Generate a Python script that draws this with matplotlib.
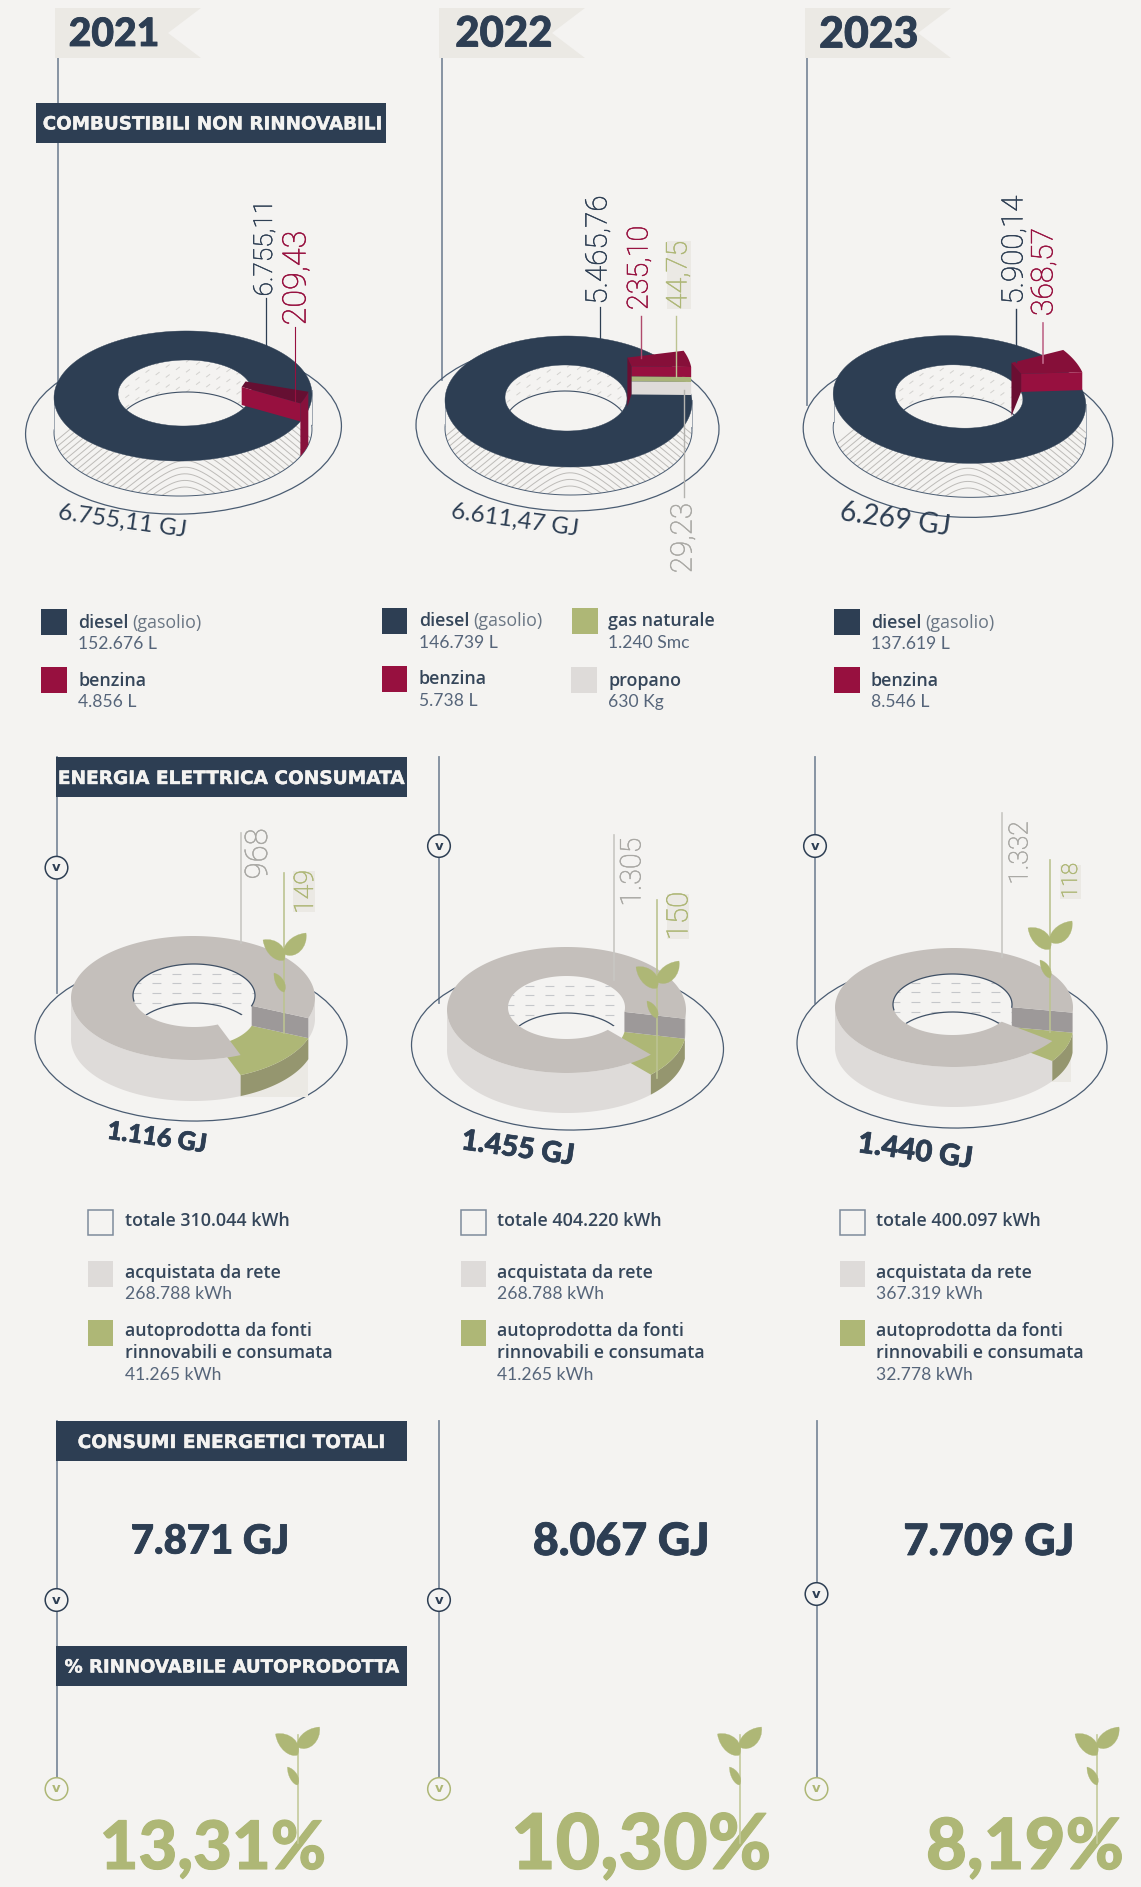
import numpy as np
import matplotlib
matplotlib.use("Agg")
import matplotlib.pyplot as plt
import matplotlib.patheffects as pe
from matplotlib.patches import Ellipse, PathPatch, Polygon, Rectangle, Circle
from matplotlib.path import Path
from matplotlib.textpath import TextPath
from matplotlib.font_manager import FontProperties

# ------------------------------ data
years = ["2021", "2022", "2023"]
diesel_gj = [6755.11, 5465.76, 5900.14]
benzina_gj = [209.43, 235.10, 368.57]
gas_gj_2022 = 44.75
propano_gj_2022 = 29.23
fuel_totals = ["6.755,11 GJ", "6.611,47 GJ", "6.269 GJ"]
rete_gj = [968, 1305, 1332]
auto_gj = [149, 150, 118]
elec_totals = ["1.116 GJ", "1.455 GJ", "1.440 GJ"]
consumi = ["7.871 GJ", "8.067 GJ", "7.709 GJ"]
rinnovabile = ["13,31%", "10,30%", "8,19%"]
diesel_l = ["152.676 L", "146.739 L", "137.619 L"]
benzina_l = ["4.856 L", "5.738 L", "8.546 L"]
gas_smc = "1.240 Smc"
propano_kg = "630 Kg"
tot_kwh = ["totale 310.044 kWh", "totale 404.220 kWh", "totale 400.097 kWh"]
rete_kwh = ["268.788 kWh", "268.788 kWh", "367.319 kWh"]
auto_kwh = ["41.265 kWh", "41.265 kWh", "32.778 kWh"]

# ------------------------------ style
BG = "#F4F3F1"; NAVY = "#2D3E53"; MAROON = "#97103F"; GREEN = "#AEB776"
LGRAY = "#DEDBD9"; RINGGRAY = "#C4BFBB"; BAND = "#9D9999"; DKGREEN = "#95966F"
FLAG = "#EBE9E4"; VLINE = "#7E8B9C"; TXTGRAY = "#A9A8A4"; HATCH = "#BDBBB8"

light = FontProperties(family="Roboto", weight="light")
regular = FontProperties(family="Lato", weight="regular")
heavy = FontProperties(family="DejaVu Sans", weight="bold")
black = FontProperties(family="Lato", weight="black")
nameb = FontProperties(family="Open Sans", weight="semibold")
nameg = FontProperties(family="Open Sans", weight="regular")


def it(v, dec=0):
    s = f"{v:,.{dec}f}"
    return s.replace(",", "#").replace(".", ",").replace("#", ".")


fig = plt.figure(figsize=(11.41, 18.87), dpi=100, facecolor=BG)
ax = fig.add_axes([0, 0, 1, 1])
ax.set_xlim(0, 1141)
ax.set_ylim(1887, 0)
ax.axis("off")


def fit(text, length, fp):
    w = TextPath((0, 0), text, size=100, prop=fp).get_extents().width
    return 100 * length / w * 0.72


def label(x, y, text, length, fp, color, rot=0, z=30, va="center", stroke=0):
    t = ax.text(x, y, text, fontproperties=fp, fontsize=fit(text, length, fp), color=color,
                rotation=rot, rotation_mode="anchor", ha="center", va=va, zorder=z)
    if stroke:
        t.set_path_effects([pe.withStroke(linewidth=stroke, foreground=color)])
    return t


def ell(e, a, dz=0, scale=1.0):
    cx, cy, rx, ry = e[:4]
    tilt = np.radians(e[4]) if len(e) > 4 else 0.0
    t = np.radians(np.asarray(a, dtype=float))
    x = rx * scale * np.cos(t)
    y = ry * scale * np.sin(t)
    return np.column_stack([cx + x * np.cos(tilt) - y * np.sin(tilt),
                            cy + x * np.sin(tilt) + y * np.cos(tilt) + dz])


def poly(pts, color, z, lw=0, ec=None):
    ax.add_patch(Polygon(pts, closed=True, fc=color, ec=ec or color, lw=lw, zorder=z))


def arcs(a0, a1, n=80):
    return np.linspace(a0, a1, n)


def annulus(outer, inner, color, z):
    a = arcs(0, 360, 200)
    po = ell(outer, a)
    pi = ell(inner, a)[::-1]
    verts = np.vstack([po, po[:1], pi, pi[:1]])
    codes = ([Path.MOVETO] + [Path.LINETO] * (len(po) - 1) + [Path.CLOSEPOLY]
             + [Path.MOVETO] + [Path.LINETO] * (len(pi) - 1) + [Path.CLOSEPOLY])
    ax.add_patch(PathPatch(Path(verts, codes), fc=color, ec=color, lw=0.3, zorder=z))


def hole_wall(inner, floor_d):
    """Polygon of the visible back wall of the hole and the floor arc inside it."""
    a = arcs(180, 360, 160)
    top = ell(inner, a)
    fl = ell(inner, a, dz=floor_d)
    return np.vstack([top, fl[::-1]]), fl


def base_ellipse(e, z=2):
    ax.add_patch(Ellipse(e[:2], 2 * e[2], 2 * e[3], angle=e[4] if len(e) > 4 else 0,
                         fc="none", ec="#4A5C72", lw=0.9, zorder=z))


def circle_v(x, y, color=NAVY, z=12):
    ax.add_patch(Circle((x, y), 11.3, fc=BG, ec=color, lw=1.1, zorder=z))
    ax.text(x, y, "v", fontproperties=heavy, fontsize=9.5, color=color, ha="center",
            va="center", zorder=z + 1)


def leaf(base, tip, color=GREEN, z=25, wid=0.42, bend=1):
    b = np.array(base, float); t = np.array(tip, float)
    d = t - b
    n = np.array([-d[1], d[0]]) * bend
    c1 = b + d * 0.15 + n * wid
    c2 = b + d * 0.75 + n * wid * 0.9
    c3 = b + d * 0.6 - n * wid * 0.75
    c4 = b + d * 0.1 - n * wid * 0.55
    verts = [b, c1, c2, t, c3, c4, b]
    codes = [Path.MOVETO, Path.CURVE4, Path.CURVE4, Path.CURVE4, Path.CURVE4, Path.CURVE4, Path.CURVE4]
    ax.add_patch(PathPatch(Path(verts, codes), fc=color, ec=color, lw=0.2, zorder=z))


def plant(x, yb1, tip1, yb2, tip2, yb3, tip3, z=25):
    leaf((x, yb1), tip1, z=z)
    leaf((x, yb2), tip2, z=z)
    leaf((x, yb3), tip3, z=z, wid=0.32)


# ------------------------------ columns / flags
flag_x = [55, 439, 805]
flag_txt_x = [114, 504, 869]
flag_len = [87, 94, 96]
flag_line_x = [57.5, 441.5, 807]
flag_line_end = [385, 380, 405]
for i, y_ in enumerate(years):
    x = flag_x[i]
    poly([(x, 8), (x + 146, 8), (x + 113, 33), (x + 146, 58), (x, 58)], FLAG, 3)
    label(flag_txt_x[i], 34.5, y_, flag_len[i], black, NAVY, stroke=0.6)
    ax.plot([flag_line_x[i]] * 2, [58, flag_line_end[i]], color=VLINE, lw=1.3, zorder=1)


def header(x0, x1, y0, y1, text, length):
    ax.add_patch(Rectangle((x0, y0), x1 - x0, y1 - y0, fc=NAVY, ec="none", zorder=8))
    label((x0 + x1) / 2, (y0 + y1) / 2 + 1.5, text, length, heavy, "#F4F3F1", z=9, stroke=0.3)


header(35.5, 386, 103, 143, "COMBUSTIBILI NON RINNOVABILI", 337)
header(56, 407, 757, 797, "ENERGIA ELETTRICA CONSUMATA", 345)
header(56, 407, 1421, 1461, "CONSUMI ENERGETICI TOTALI", 305)
header(56, 407, 1646, 1686, "% RINNOVABILE AUTOPRODOTTA", 334)

# ------------------------------ fuel donuts
f_outer = [(183, 396, 129, 65, -1), (568.5, 401.5, 123.5, 65.5, 0.7), (959.5, 399.5, 126.5, 63.5, 3.5)]
f_inner = [(185, 393, 67, 33, -1), (566, 398, 61, 33, 0.7), (959, 396.5, 64, 31.5, 3.5)]
f_depth = [35, 28, 34]
f_floor = [32, 26, 32]
f_base = [(183.5, 430, 158, 84, -2), (567.5, 427, 151.5, 84, 1), (958, 435, 155, 82, 3.5)]
f_front = [25, -7, -15.4]
f_rise = [18, 28, 18]
f_inner_k = [0.93, 1.08, 1.0]
f_tip = [0.72, 0.75, 1.03]
f_top = ["#650F32", "#860F39", "#860F39"]
f_hill = [(185, 496), (570, 495), (968, 497)]

for i in range(3):
    o, n, d = f_outer[i], f_inner[i], f_depth[i]
    base_ellipse(f_base[i])
    # side wall
    a = arcs(-3, 183)
    side = np.vstack([ell(o, a), ell(o, a[::-1], dz=d)])
    sp = Polygon(side, closed=True, fc=BG, ec="none", zorder=3)
    ax.add_patch(sp)
    hx, hy = f_hill[i]
    xs_h = np.linspace(hx - 180, hx + 180, 240)
    for r in np.arange(9, 150, 6.6):
        l, = ax.plot(xs_h, hy - r + 0.85 * (np.sqrt((xs_h - hx) ** 2 + 22 ** 2) - 22),
                     color=HATCH, lw=0.7, zorder=4)
        l.set_clip_path(sp)
    ax.plot(*ell(o, a, dz=d).T, color="#4A5C72", lw=0.7, zorder=5)
    for e_ in (a[0], a[-1]):
        ax.plot(*np.vstack([ell(o, [e_]), ell(o, [e_], dz=d)]).T, color="#9EA6B0", lw=0.7, zorder=5)
    # hole wall
    wall, fl = hole_wall(n, f_floor[i])
    wp = Polygon(wall, closed=True, fc=BG, ec="none", zorder=3)
    ax.add_patch(wp)
    for c in np.arange(-200, 400, 10):
        xs = np.array([n[0] - 90, n[0] + 90])
        ys = n[1] + c - 0.75 * (xs - n[0])
        l, = ax.plot(xs, ys, color="#D3D2CF", lw=0.7, dashes=(5, 8), zorder=4)
        l.set_clip_path(wp)
    hp = Ellipse(n[:2], 2 * n[2], 2 * n[3], angle=n[4], fc="none", ec="none", zorder=1)
    ax.add_patch(hp)
    l, = ax.plot(*fl.T, color="#3F5065", lw=0.8, zorder=5)
    l.set_clip_path(hp)
    # top ring
    annulus(o, n, NAVY, 6)
    # raised wedge
    gap = benzina_gj[i] / (diesel_gj[i] + benzina_gj[i]) * 360
    if i == 1:
        gap = benzina_gj[1] / (diesel_gj[1] + benzina_gj[1] + gas_gj_2022 + propano_gj_2022) * 360
    af, ab = f_front[i], f_front[i] - gap
    h, k = f_rise[i], f_inner_k[i]
    def O(ang, dz): return ell(o, [ang], dz=dz)[0]
    def N(ang, dz): return ell(n, [ang], dz=dz, scale=k)[0]
    if af > 0:
        wa = arcs(ab, af, 20)
        poly(np.vstack([ell(o, wa, dz=-h), ell(o, wa[::-1], dz=d)]), "#87113C", 7)
    else:
        poly([N(ab, -h), N(af, -h), N(af, 0), N(ab, d * f_tip[i])], "#6B0E32", 9)
    wa = arcs(ab, af, 20)
    poly(np.vstack([ell(o, wa, dz=-h), N(af, -h), N(ab, -h)]), f_top[i], 8)
    if i == 1:
        layers = [(28, 18, MAROON), (18, 13, "#A9B37A"), (13, 0, LGRAY)]
    else:
        layers = [(h, 0, MAROON)]
    for hi, lo, col in layers:
        poly([N(af, -hi), O(af, -hi), O(af, -lo), N(af, -lo)], col, 8.5)

# fuel value labels
f_lab = [
    [(265, 248, it(diesel_gj[0], 2), 89, NAVY), (297, 278, it(benzina_gj[0], 2), 91, MAROON)],
    [(598.5, 250, it(diesel_gj[1], 2), 105, NAVY), (639.5, 268, it(benzina_gj[1], 2), 81, MAROON),
     (678.5, 275, it(gas_gj_2022, 2), 66, GREEN), (683.5, 538, it(propano_gj_2022, 2), 67, TXTGRAY)],
    [(1014.5, 250, it(diesel_gj[2], 2), 106, NAVY), (1044.5, 272, it(benzina_gj[2], 2), 85, MAROON)],
]
for col in f_lab:
    for x, y, t, ln, c in col:
        label(x, y, t, ln, light, c, rot=90, stroke=0.35)
ax.add_patch(Rectangle((667, 241), 24, 68, fc=FLAG, ec="none", zorder=20))
f_lines = [(266, 298, 382, NAVY, 0.9), (295, 327, 405, MAROON, 0.8), (600, 307, 357, NAVY, 0.9),
           (641, 316, 358, "#B04A6C", 1.0), (676, 316, 377, "#BCC392", 1.0), (684, 390, 497, "#B4B3AF", 1.0),
           (1016, 309, 362, NAVY, 1.0), (1043, 323, 363, "#C0688A", 1.2)]
for x, y0, y1, c, lw in f_lines:
    ax.plot([x, x], [y0, y1], color=c, lw=lw, zorder=21)

f_tot_pos = [(122, 521, 126), (515, 520, 125), (895, 520, 107)]
for (x, y, ln), t in zip(f_tot_pos, fuel_totals):
    label(x, y, t, ln, regular, NAVY, rot=-8)

# ------------------------------ legends
LEG = 12.6
LEGN = 12.9
def leg(x, y, name, value, extra=None):
    y = y + 1.5
    ax.text(x, y, name, fontproperties=nameb, fontsize=LEGN, color="#35465A", va="center", zorder=30)
    if extra:
        w = TextPath((0, 0), name + " ", size=LEGN / 0.72, prop=nameb).get_extents().width
        ax.text(x + w + 6, y, extra, fontproperties=nameg, fontsize=LEGN, color="#6A7684", va="center", zorder=30)
    for j, v in enumerate(value):
        ax.text(x, y + 21.5 * (j + 1), v, fontproperties=regular, fontsize=LEG, color="#56657A", va="center", zorder=30)


def swatch(x0, y0, w, h, c, outline=False):
    ax.add_patch(Rectangle((x0, y0), w, h, fc=BG if outline else c, ec=VLINE if outline else "none",
                           lw=1.1, zorder=30))


l_sw_x = [41, 381.5, 834]
l_tx_x = [78, 419, 871]
l_y = [(609, 621), (608, 620), (609, 621)]
l_y2 = [(667, 679), (665.5, 678), (667, 679)]
for i in range(3):
    swatch(l_sw_x[i], l_y[i][0], 25.5, 26, NAVY)
    leg(l_tx_x[i], l_y[i][1], "diesel", [diesel_l[i]], extra="(gasolio)")
    swatch(l_sw_x[i], l_y2[i][0], 25.5, 26, MAROON)
    leg(l_tx_x[i], l_y2[i][1], "benzina", [benzina_l[i]])
swatch(572, 608, 25.5, 26, GREEN)
leg(608, 620, "gas naturale", [gas_smc])
swatch(571, 667, 25.5, 26, LGRAY)
leg(608, 679, "propano", [propano_kg])

# ------------------------------ electricity donuts
e_outer = [(193, 998, 122, 62), (566.5, 1010, 119.5, 63), (954, 1007.5, 119, 59.5)]
e_inner = [(194, 995.5, 61, 31.5), (566.5, 1007.5, 58.5, 31.5), (952.5, 1004.5, 59.5, 30.5)]
e_depth = [41, 40, 40]
e_floor = [39, 37, 38]
e_base = [(191, 1040, 156, 81, 1), (567.5, 1047, 156, 83, 1), (952, 1045, 155, 83, 1)]
e_start = [19, 8, 5]
e_panel = [(240, 1040, 68, 57), None, (1050, 1032, 21, 50)]
e_outline = [True, False, True]
DZ = 20

for i in range(3):
    o, n, d = e_outer[i], e_inner[i], e_depth[i]
    base_ellipse(e_base[i])
    if e_panel[i]:
        ax.add_patch(Rectangle(e_panel[i][:2], e_panel[i][2], e_panel[i][3], fc=FLAG, ec="none", zorder=2.5))
    a0 = e_start[i]
    a1 = a0 + auto_gj[i] / (auto_gj[i] + rete_gj[i]) * 360
    # side walls
    a = arcs(a1, 182)
    poly(np.vstack([ell(o, a), ell(o, a[::-1], dz=d)]), LGRAY, 3)
    a = arcs(-2, a0, 20)
    poly(np.vstack([ell(o, a), ell(o, a[::-1], dz=d * 0.5)]), LGRAY, 3)
    # hole wall dashes
    wall, fl = hole_wall(n, e_floor[i])
    wp = Polygon(wall, closed=True, fc=BG, ec="none", zorder=3)
    ax.add_patch(wp)
    for r in np.arange(n[1] - 22, n[1] + 30, 9.8):
        l, = ax.plot([n[0] - 62, n[0] + 62], [r, r], color="#C5C7CA", lw=0.8, dashes=(8, 10), zorder=4)
        l.set_clip_path(wp)
    hp = Ellipse(n[:2], 2 * n[2], 2 * n[3], fc="none", ec="none", zorder=1)
    ax.add_patch(hp)
    l, = ax.plot(*fl.T, color="#3F5065", lw=0.9, zorder=5)
    l.set_clip_path(hp)
    # green wedge
    ga = arcs(a0, a1, 40)
    poly(np.vstack([ell(o, ga, dz=DZ), ell(o, ga[::-1], dz=d)]), DKGREEN, 5.5)
    poly(np.vstack([ell(o, ga, dz=DZ), ell(n, ga[::-1], dz=DZ)]), GREEN, 6)
    poly([ell(n, [a0])[0], ell(o, [a0])[0], ell(o, [a0], dz=DZ)[0], ell(n, [a0], dz=DZ)[0]], BAND, 6.2)
    # ring
    ra = arcs(a1, a0 + 360, 200)
    poly(np.vstack([ell(o, ra), ell(n, ra[::-1])]), RINGGRAY, 7)
    if e_outline[i]:
        ax.plot(*ell(n, arcs(170, 360 + a0, 120)).T, color="#3F5065", lw=0.9, zorder=7.5)

e_lab = [
    [(258.5, 854, it(rete_gj[0]), 48, TXTGRAY), (305.5, 892, it(auto_gj[0]), 40, GREEN)],
    [(632.5, 872, it(rete_gj[1]), 65, TXTGRAY), (679.5, 916, it(auto_gj[1]), 44, GREEN)],
    [(1020.5, 853, it(rete_gj[2]), 60, TXTGRAY), (1071.5, 881, it(auto_gj[2]), 33, GREEN)],
]
for col in e_lab:
    for x, y, t, ln, c in col:
        label(x, y, t, ln, light, c, rot=90, stroke=0.35)
for x0, y0, w, h in [(293, 871, 22, 41), (667, 894, 22, 45), (1060, 865, 21, 34)]:
    ax.add_patch(Rectangle((x0, y0), w, h, fc=FLAG, ec="none", zorder=20))
e_lines = [(240.7, 833, 943, "#C8C7C3", 1.2), (284, 873, 1033, "#BCC392", 1.2), (614, 835, 980, "#C8C7C3", 1.2),
           (657, 900, 1078, "#BCC392", 1.2), (1002, 813, 957, "#C8C7C3", 1.2), (1050, 860, 1032, "#BCC392", 1.2)]
for x, y0, y1, c, lw in e_lines:
    ax.plot([x, x], [y0, y1], color=c, lw=lw, zorder=21)
plant(284, 960, (263, 940), 954, (306, 933), 992, (274, 973))
plant(657, 988, (636, 967), 982, (679, 961), 1018, (647, 1001))
plant(1050, 949, (1028, 928), 942, (1072, 921), 978, (1040, 960))

e_tot_pos = [(157, 1138, 97), (518, 1149, 110), (915, 1152, 112)]
for (x, y, ln), t in zip(e_tot_pos, elec_totals):
    label(x, y, t, ln, black, NAVY, rot=-8, stroke=0.5)

# vertical connectors of the electricity block
for x, ye, cy in [(56.5, 993, 867.7), (439, 1003, 846), (815, 1003, 846)]:
    ax.plot([x, x], [757, ye], color=VLINE, lw=1.3, zorder=1)
    circle_v(x, cy)

# electricity legend
el_sw = [88, 461, 840]
el_tx = [125, 497, 876]
for i in range(3):
    swatch(el_sw[i], 1210, 25, 25, BG, outline=True)
    ax.text(el_tx[i], 1220.5, tot_kwh[i], fontproperties=nameb, fontsize=LEGN, color="#35465A", va="center", zorder=30)
    swatch(el_sw[i], 1261, 25, 25.5, LGRAY)
    leg(el_tx[i], 1271, "acquistata da rete", [rete_kwh[i]])
    swatch(el_sw[i], 1320, 25, 25.5, GREEN)
    ax.text(el_tx[i], 1331.5, "autoprodotta da fonti", fontproperties=nameb, fontsize=LEGN, color="#35465A", va="center", zorder=30)
    leg(el_tx[i], 1352, "rinnovabili e consumata", [auto_kwh[i]])

# ------------------------------ totals block
for x, c_y in [(56.5, 1600), (439, 1600), (816.5, 1594)]:
    ax.plot([x, x], [1421, 1789], color=VLINE, lw=1.3, zorder=1)
    circle_v(x, c_y)
    circle_v(x, 1789, color=GREEN)
for cx, t, ln in zip([210, 621, 989], consumi, [154, 172, 166]):
    label(cx, 1542, t, ln, black, NAVY, stroke=0.6)
for cx, t, ln, sx in zip([213, 641, 1025], rinnovabile, [220, 253, 193], [297.5, 739.5, 1097]):
    label(cx, 1869, t, ln, black, GREEN, z=24, va="baseline", stroke=0.8)
    ax.plot([sx, sx], [1735, 1843], color="#C4CB9C", lw=1.2, zorder=25)
    plant(sx, 1755, (sx - 22, 1734), 1747, (sx + 22, 1727), 1785, (sx - 10, 1767))

fig.savefig("out.png", dpi=100, facecolor=BG)
